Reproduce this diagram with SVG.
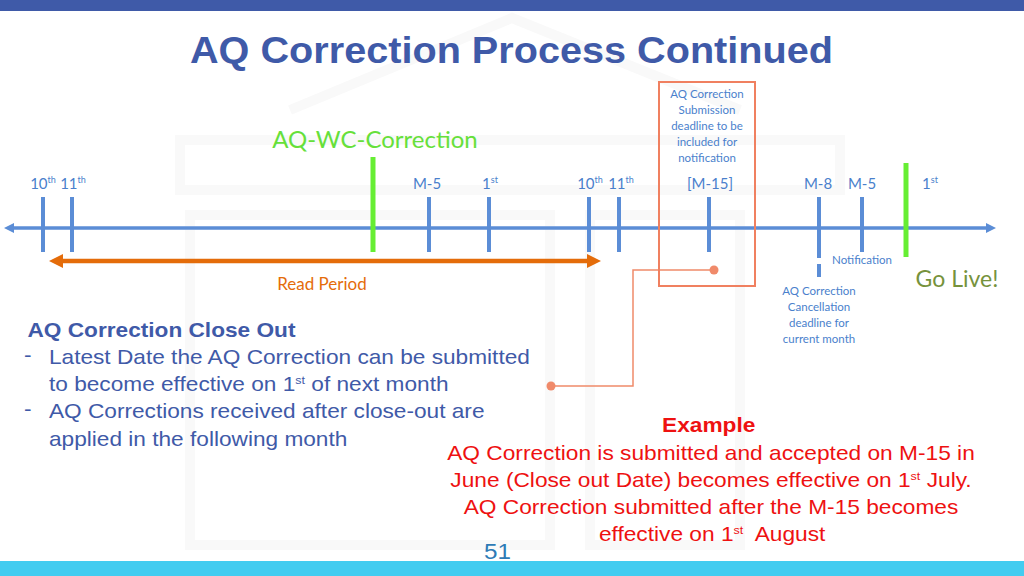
<svg xmlns="http://www.w3.org/2000/svg" width="1024" height="576" viewBox="0 0 1024 576">
<style>
.lbl{font-family:Lato,"Open Sans","Liberation Sans",sans-serif;fill:#4A7FCC}
.tick{stroke:#5B8DD6;stroke-width:4}
.gtick{stroke:#66EE33;stroke-width:5}
.body{font-family:"Liberation Sans",Arial,sans-serif;font-size:20px;fill:#3F5AA8}
.red{font-family:"Liberation Sans",Arial,sans-serif;font-size:20px;fill:#EE1111;text-anchor:middle}
.small{font-family:Lato,"Open Sans","Liberation Sans",sans-serif;font-size:11.5px;fill:#4A7FCC;text-anchor:middle}
.wm{fill:none;stroke:#F9F9F9;stroke-width:10}
</style>
<defs>
<marker id="ab" markerWidth="10" markerHeight="10" refX="2" refY="5" orient="auto-start-reverse" markerUnits="userSpaceOnUse">
<path d="M0,0 L10,5 L0,10 z" fill="#5B8DD6"/>
</marker>
<marker id="ao" markerWidth="14" markerHeight="14" refX="3" refY="7" orient="auto-start-reverse" markerUnits="userSpaceOnUse">
<path d="M0,0 L14,7 L0,14 z" fill="#E46C0A"/>
</marker>
</defs>
<rect width="1024" height="576" fill="#FFFFFF"/>
<g id="watermark">
<path class="wm" d="M290,110 L512,18 L740,110"/>
<rect class="wm" x="190" y="215" width="360" height="330"/>
<rect class="wm" x="590" y="215" width="150" height="330"/>
<rect class="wm" x="180" y="140" width="660" height="50"/>
</g>
<rect x="0" y="0" width="1024" height="11" fill="#3F5AA8"/>
<rect x="0" y="561" width="1024" height="15" fill="#42CCF0"/>
<text id="title" x="190" y="63" textLength="643" lengthAdjust="spacingAndGlyphs" font-family="'Liberation Sans',Arial,sans-serif" font-weight="bold" font-size="36" fill="#3F5AA8">AQ Correction Process Continued</text>

<g id="connectors">
<line x1="12" y1="228" x2="988" y2="228" stroke="#5B8DD6" stroke-width="3.5" marker-start="url(#ab)" marker-end="url(#ab)"/>
<line x1="60" y1="261" x2="590" y2="261" stroke="#E46C0A" stroke-width="4.5" marker-start="url(#ao)" marker-end="url(#ao)"/>
<polyline points="714,270 633,270 633,386 551,386" fill="none" stroke="#F08A6A" stroke-width="1.5"/>
<circle cx="714" cy="270" r="4.5" fill="#F08A6A"/>
<circle cx="551" cy="386" r="4.5" fill="#F08A6A"/>
</g>

<g id="ticks">
<line class="tick" x1="43" y1="197" x2="43" y2="252"/>
<line class="tick" x1="72" y1="197" x2="72" y2="252"/>
<line class="tick" x1="429" y1="197" x2="429" y2="252"/>
<line class="tick" x1="489" y1="197" x2="489" y2="252"/>
<line class="tick" x1="589" y1="197" x2="589" y2="252"/>
<line class="tick" x1="619" y1="197" x2="619" y2="252"/>
<line class="tick" x1="709" y1="197" x2="709" y2="252"/>
<line class="tick" x1="819" y1="197" x2="819" y2="258"/>
<line class="tick" x1="819" y1="264" x2="819" y2="277"/>
<line class="tick" x1="862" y1="197" x2="862" y2="252"/>
<line class="gtick" x1="373" y1="157" x2="373" y2="252"/>
<line class="gtick" x1="906" y1="163" x2="906" y2="257"/>
</g>

<g id="tick-labels" class="lbl" font-size="15" text-anchor="middle">
<text x="43" y="189">10<tspan font-size="9" dy="-6">th</tspan></text>
<text x="73" y="189">11<tspan font-size="9" dy="-6">th</tspan></text>
<text x="427" y="189">M-5</text>
<text x="490" y="189">1<tspan font-size="9" dy="-6">st</tspan></text>
<text x="590" y="189">10<tspan font-size="9" dy="-6">th</tspan></text>
<text x="621" y="189">11<tspan font-size="9" dy="-6">th</tspan></text>
<text x="710" y="189">[M-15]</text>
<text x="818" y="189">M-8</text>
<text x="862" y="189">M-5</text>
<text x="930" y="189">1<tspan font-size="9" dy="-6">st</tspan></text>
</g>

<g id="aq-wc">
<text x="375" y="148" text-anchor="middle" font-family="Lato,'Open Sans','Liberation Sans',sans-serif" font-size="24" fill="#66E03A">AQ-WC-Correction</text>
</g>
<g id="read-period">
<text x="322" y="290" text-anchor="middle" font-family="Lato,'Open Sans','Liberation Sans',sans-serif" font-size="17" fill="#E46C0A">Read Period</text>
</g>

<g id="submission-box">
<rect x="659" y="82" width="96" height="204" fill="none" stroke="#F08060" stroke-width="2"/>
<text class="small" x="707" y="98">AQ Correction</text>
<text class="small" x="707" y="114">Submission</text>
<text class="small" x="707" y="130">deadline to be</text>
<text class="small" x="707" y="146">included for</text>
<text class="small" x="707" y="162">notification</text>
</g>

<g id="notification">
<text class="small" x="862" y="264">Notification</text>
</g>
<g id="cancellation">
<text class="small" x="819" y="295">AQ Correction</text>
<text class="small" x="819" y="311">Cancellation</text>
<text class="small" x="819" y="327">deadline for</text>
<text class="small" x="819" y="343">current month</text>
</g>
<g id="go-live">
<text x="957" y="287" text-anchor="middle" font-family="Lato,'Open Sans','Liberation Sans',sans-serif" font-size="23" fill="#76923C">Go Live!</text>
</g>

<g id="close-out" transform="matrix(1.133,0,0,1,-5.4,0)">
<text class="body" x="29" y="337" font-weight="bold">AQ Correction Close Out</text>
<text class="body" x="26" y="362">-</text>
<text class="body" x="48" y="364">Latest Date the AQ Correction can be submitted</text>
<text class="body" x="48" y="391">to become effective on 1<tspan font-size="11" dy="-7">st</tspan><tspan dy="7"> of next month</tspan></text>
<text class="body" x="26" y="416">-</text>
<text class="body" x="48" y="418">AQ Corrections received after close-out are</text>
<text class="body" x="48" y="446">applied in the following month</text>
</g>

<g id="example" transform="matrix(1.136,0,0,1,-96.7,0)">
<text class="red" x="709" y="432" font-weight="bold">Example</text>
<text class="red" x="711" y="460">AQ Correction is submitted and accepted on M-15 in</text>
<text class="red" x="711" y="487">June (Close out Date) becomes effective on 1<tspan font-size="11" dy="-7">st</tspan><tspan dy="7"> July.</tspan></text>
<text class="red" x="711" y="514">AQ Correction submitted after the M-15 becomes</text>
<text class="red" x="712" y="541">effective on 1<tspan font-size="11" dy="-7">st</tspan><tspan dy="7">&#160; August</tspan></text>
</g>

<text id="page-number" x="484" y="559" textLength="27" lengthAdjust="spacingAndGlyphs" font-family="'Liberation Sans',Arial,sans-serif" font-size="22" fill="#2E7BB6">51</text>
</svg>
